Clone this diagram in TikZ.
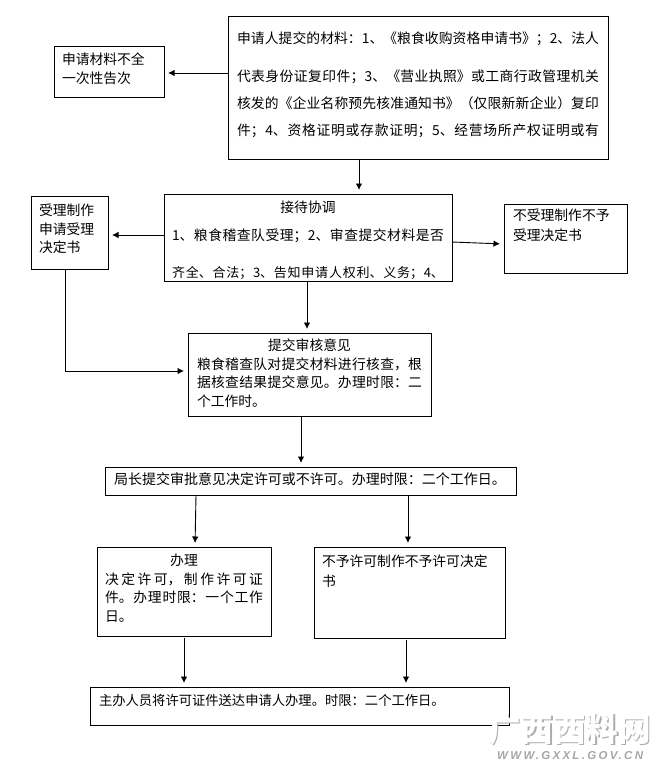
\documentclass[tikz,border=0pt]{standalone}
\usepackage{fontspec}
\setmainfont{Noto Sans CJK SC}
\newfontfamily\latinwm[LetterSpace=20]{Liberation Sans}
\usetikzlibrary{arrows.meta}
\XeTeXlinebreaklocale "zh"
\XeTeXlinebreakskip=0pt plus 4pt minus 0.6pt
% width, height, top pad, side pad, baseline skip, text
\newcommand\boxt[6]{\parbox[t][#2pt][t]{#1pt}{\fontsize{13.8pt}{#5pt}\selectfont\vspace*{#3pt}\leftskip=#4pt\rightskip=#4pt\parindent=0pt\relax #6\par}}
\tikzset{
  x=1pt,y=-1pt,
  flowbox/.style={draw=black,line width=1pt,inner sep=0pt,outer sep=0pt,anchor=north west,fill=white},
  arr/.style={draw=black,line width=0.9pt,-{Latex[length=6.5pt,width=6.5pt]},shorten >=4pt},
}
\begin{document}
\begin{tikzpicture}
\useasboundingbox[fill=white] (0,0) rectangle (666,777);
\node[flowbox] (A) at (228,16) {\boxt{380}{143}{16}{9}{27}{\parfillskip=0pt 申请人提交的材料：1、《粮食收购资格申请书》；2、法人\vspace{11pt}\linebreak 代表身份证复印件；3、《营业执照》或工商行政管理机关\linebreak 核发的《企业名称预先核准通知书》（仅限新新企业）复印\linebreak 件；4、资格证明或存款证明；5、经营场所产权证明或有}};
\node[flowbox] (B) at (54,46) {\boxt{110}{51}{7}{8}{19}{申请材料不全\newline 一次性告次}};
\node[flowbox] (C) at (164,194) {\boxt{288}{87}{7}{8}{28}{\parfillskip=0pt \hfill 接待协调\hfill\mbox{}\linebreak 1、粮食稽查队受理；2、审查提交材料是否\vspace{9pt}\linebreak {\fontsize{13pt}{28pt}\selectfont 齐全、合法；3、告知申请人权利、义务；4、}}};
\node[flowbox] (L) at (31,196) {\boxt{77}{73}{8}{8}{18.5}{受理制作\newline 申请受理\newline 决定书}};
\node[flowbox] (R) at (504,204) {\boxt{123}{69}{5}{9}{20}{不受理制作不予\newline 受理决定书}};
\node[flowbox] (D) at (188,333) {\boxt{243}{83}{6}{9}{18.5}{\hfill 提交审核意见\hfill\mbox{}\linebreak 粮食稽查队对提交材料进行核查，根\linebreak 据核查结果提交意见。办理时限：二\linebreak 个工作时。}};
\node[flowbox] (E) at (105,467) {\boxt{411}{28}{6}{9}{19}{\fontsize{14pt}{19pt}\selectfont 局长提交审批意见决定许可或不许可。办理时限：二个工作日。}};
\node[flowbox] (F) at (97,547) {\boxt{174}{89}{7}{8}{18.5}{\hfill 办理\hfill\mbox{}\linebreak 决定许可，制作许可证\linebreak 件。办理时限：一个工作\linebreak 日。}};
\node[flowbox] (G) at (314,547) {\boxt{191}{91}{8}{8}{20}{不予许可制作不予许可决定\newline 书}};
\node[flowbox] (H) at (90,687) {\boxt{419}{38}{7}{9}{19}{\fontsize{13.3pt}{19pt}\selectfont 主办人员将许可证件送达申请人办理。时限：二个工作日。}};
% connectors
\draw[arr] ([xshift=-59pt]A.south) -- ([xshift=51pt]C.north);
\draw[arr] ([yshift=14.5pt]A.west) -- ([yshift=-1.5pt]B.east);
\draw[arr] ([yshift=2.5pt]C.west) -- ([yshift=-2.5pt]L.east);
\draw[arr] ([yshift=-4.5pt]C.east) -- ([yshift=-5.5pt]R.west);
\draw[arr] ([xshift=-1pt,yshift=-1pt]C.south) -- ([xshift=-2.5pt]D.north);
\draw[arr] ([xshift=-4.5pt]L.south) |- ([yshift=3.5pt]D.west);
\draw[arr] ([xshift=-8.5pt]D.south) -- ([xshift=-9.5pt]E.north);
\draw[arr] ([xshift=-114.5pt]E.south) -- ([xshift=11pt]F.north);
\draw[arr] ([xshift=97.5pt]E.south) -- ([xshift=-1.5pt]G.north);
\draw[arr] ([xshift=0pt,yshift=-2pt]F.south) -- ([xshift=-115.5pt]H.north);
\draw[arr] ([xshift=-3.5pt,yshift=-2pt]G.south) -- ([xshift=106.5pt]H.north);
% watermark
\node[inner sep=0pt,anchor=west] (wm) at (488,730) {\fontsize{32.5pt}{33pt}\selectfont\bfseries\rlap{\kern1.5pt\raisebox{-1.5pt}{\textcolor{black!32}{广西西料网}}}\textcolor{white}{广西西料网}};
\node[inner sep=0pt,anchor=west] (url) at (497,756) {\latinwm\fontsize{11.5pt}{11.5pt}\selectfont\bfseries\itshape\textcolor{black!35}{WWW.GXXL.GOV.CN}};
\end{tikzpicture}
\end{document}
